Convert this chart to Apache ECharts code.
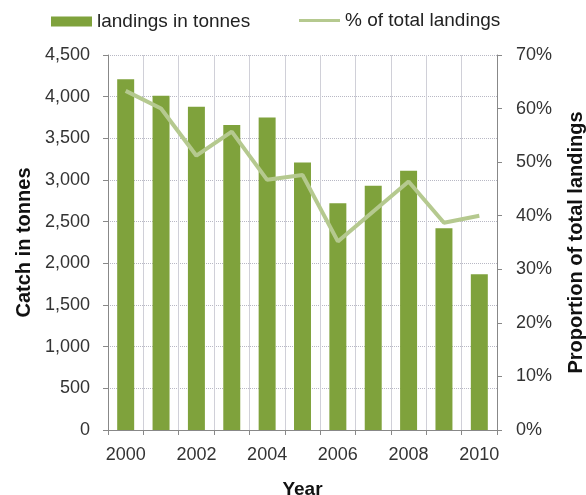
<!DOCTYPE html>
<html>
<head>
<meta charset="utf-8">
<script src="https://cdn.jsdelivr.net/npm/echarts@6/dist/echarts.min.js"></script>
<style>
  html, body { margin: 0; padding: 0; background: #fff; }
  #chart { width: 586px; height: 495px; }
</style>
</head>
<body>
<div id="chart"></div>
<script>
// data
const years = ['2000', '2001', '2002', '2003', '2004', '2005', '2006', '2007', '2008', '2009', '2010']
const landings = [4210, 4010, 3880, 3660, 3750, 3210, 2720, 2930, 3110, 2420, 1870]
const pctTotal = [63.3, 60.0, 51.2, 55.7, 46.7, 47.6, 35.2, 40.8, 46.4, 38.7, 40.0]

const font = 'Liberation Sans, Arial, sans-serif'
const barColor = '#7fa23c'
const lineColor = '#b5c98f'
const chart = echarts.init(document.getElementById('chart'))

const option = {
  backgroundColor: '#ffffff',
  textStyle: { fontFamily: font },
  // two legends so the line swatch can be thinner than the bar swatch
  legend: [
    {
      left: 46,
      top: 7,
      itemWidth: 41,
      itemHeight: 10,
      textStyle: { fontSize: 19, color: '#222', fontFamily: font },
      data: [{ name: 'landings in tonnes', icon: 'rect' }]
    },
    {
      left: 294,
      top: 6,
      itemWidth: 41,
      itemHeight: 3,
      textStyle: { fontSize: 19, color: '#222', fontFamily: font },
      data: [{ name: '% of total landings', icon: 'rect', itemStyle: { color: lineColor } }]
    }
  ],
  grid: { left: 108, right: 89, top: 55, bottom: 65, outerBoundsMode: 'none' },
  xAxis: {
    type: 'category',
    data: years,
    name: 'Year',
    nameLocation: 'middle',
    nameGap: 50,
    nameTextStyle: { fontSize: 19, fontWeight: 'bold', color: '#111' },
    axisLine: { lineStyle: { color: '#888' } },
    axisTick: { show: true, interval: 0, lineStyle: { color: '#888' } },
    axisLabel: { interval: 1, fontSize: 18, color: '#333', margin: 16 },
    splitLine: { show: true, interval: 0, lineStyle: { color: '#d0d0d8', width: 1 } }
  },
  yAxis: [
    {
      type: 'value',
      min: 0,
      max: 4500,
      interval: 500,
      name: 'Catch in tonnes',
      nameLocation: 'middle',
      nameGap: 73,
      nameTextStyle: { fontSize: 20, fontWeight: 'bold', color: '#111' },
      axisLine: { show: true, lineStyle: { color: '#888' } },
      axisTick: { show: true, lineStyle: { color: '#888' } },
      axisLabel: {
        fontSize: 18,
        color: '#333',
        margin: 18,
        formatter: v => v.toLocaleString('en-US')
      },
      splitLine: { lineStyle: { color: '#b8b8c4', type: 'dotted' } }
    },
    {
      type: 'value',
      min: 0,
      max: 70,
      interval: 10,
      name: 'Proportion of total landings',
      nameLocation: 'middle',
      nameGap: 69,
      nameRotate: 90,
      nameTextStyle: { fontSize: 20, fontWeight: 'bold', color: '#111' },
      axisLine: { show: true, lineStyle: { color: '#888' } },
      axisTick: { show: true, lineStyle: { color: '#888' } },
      axisLabel: { fontSize: 18, color: '#333', margin: 19, formatter: '{value}%' },
      splitLine: { show: false }
    }
  ],
  series: [
    {
      name: 'landings in tonnes',
      type: 'bar',
      data: landings,
      barWidth: '48%',
      itemStyle: { color: barColor }
    },
    {
      name: '% of total landings',
      type: 'line',
      yAxisIndex: 1,
      data: pctTotal,
      symbol: 'none',
      lineStyle: { color: lineColor, width: 4 },
      itemStyle: { color: lineColor }
    }
  ]
}
chart.setOption(option)
</script>
</body>
</html>
